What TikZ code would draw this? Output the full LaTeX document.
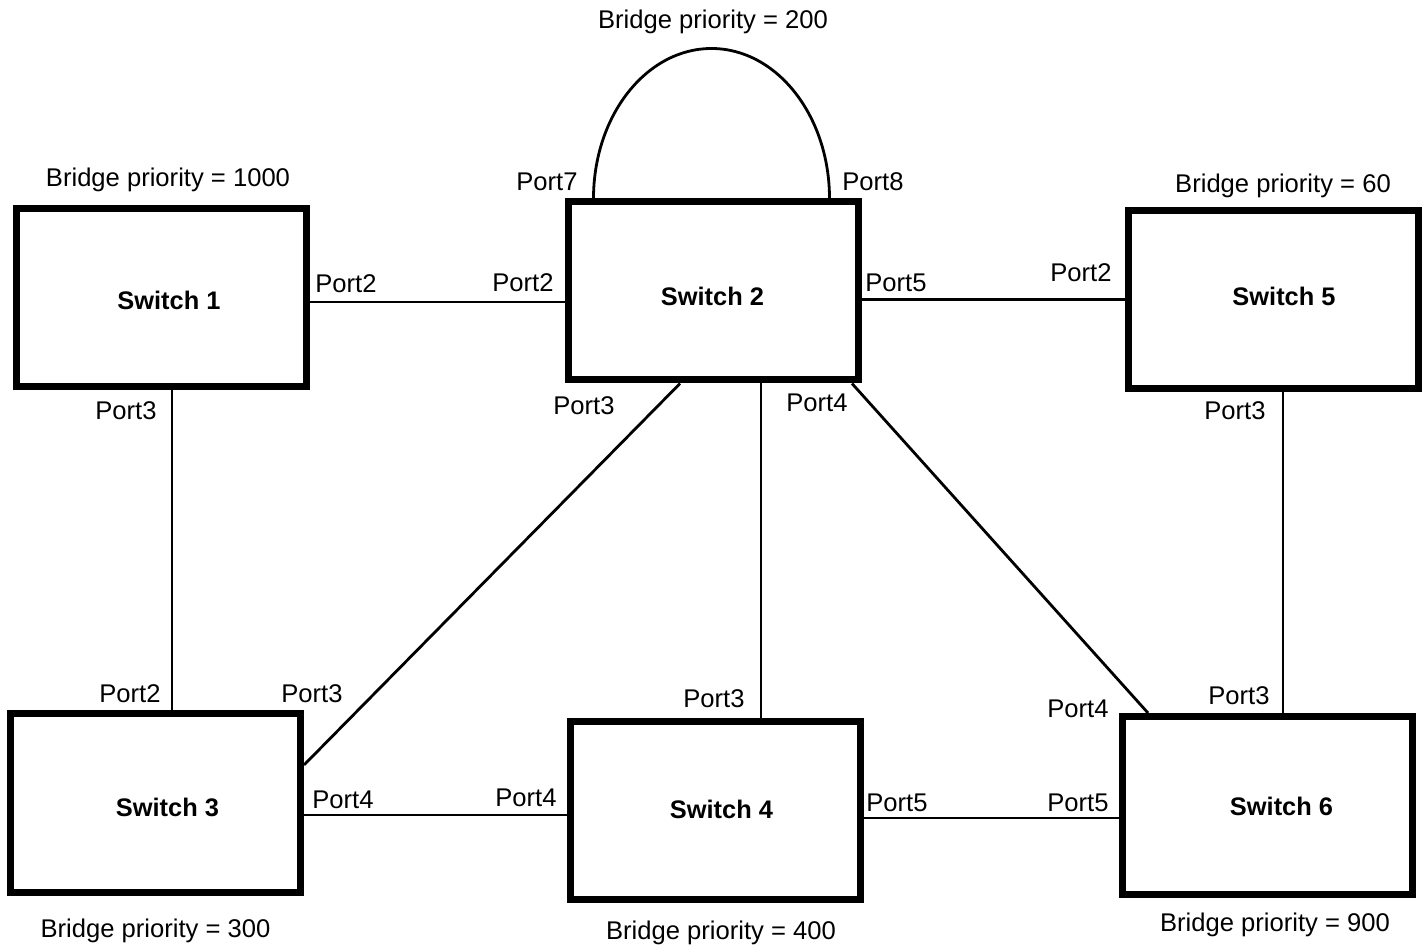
\documentclass[tikz,border=0pt]{standalone}
\usepackage{fontspec}
\setmainfont{Liberation Sans}
\usetikzlibrary{positioning}
\tikzset{
  switch/.style={draw,line width=3.5pt,minimum width=145pt,minimum height=89pt,inner sep=0pt},
  swname/.style={inner sep=0pt,font=\fontsize{12.7}{15}\selectfont\bfseries},
  link/.style={line width=1.4pt},
  port/.style={inner sep=0pt,font=\fontsize{12.8}{15}\selectfont},
  prio/.style={port}
}

\begin{document}
\begin{tikzpicture}[x=0.5pt,y=-0.5pt]
\useasboundingbox (0,0) rectangle (1426,946);
% switches
\node[switch,label={[swname,xshift=4pt,yshift=-1pt]center:Switch 1}] (s1) at (161,298) {};
\node[switch,label={[swname,xshift=-0.5pt,yshift=-2.5pt]center:Switch 2}] (s2) at (713.5,291) {};
\node[switch,label={[swname,xshift=5.5pt,yshift=1.5pt]center:Switch 5}] (s5) at (1273,299.5) {};
\node[switch,label={[swname,xshift=6pt,yshift=-2pt]center:Switch 3}] (s3) at (155.5,803) {};
\node[switch,label={[swname,xshift=3pt,yshift=0.5pt]center:Switch 4}] (s4) at (715.5,810.5) {};
\node[switch,label={[swname,xshift=7pt,yshift=-0.5pt]center:Switch 6}] (s6) at (1267.5,805.5) {};
% bridge priorities
\node[prio,above=6.5pt of s1,xshift=3.5pt] (b1) {Bridge priority = 1000};
\node[prio] (b2) at (713,22) {Bridge priority = 200};
\node[prio,above=4.5pt of s5,xshift=5pt] (b5) {Bridge priority = 60};
\node[prio,below=11.5pt of s3] (b3) {Bridge priority = 300};
\node[prio,below=9pt of s4,xshift=2.75pt] (b4) {Bridge priority = 400};
\node[prio,below=7.5pt of s6,xshift=3.75pt] (b6) {Bridge priority = 900};
% links
\draw[link] ([yshift=-2pt]s1.east) coordinate (p12) -- (p12 -| s2.west);
\draw[link] (s5.west) -- (s5.west -| s2.east);
\draw[link] ([xshift=5.5pt]s1.south) coordinate (p13) -- (p13 |- s3.north);
\draw[link] ([xshift=-16.75pt]s2.south) -- ([yshift=19pt]s3.east);
\draw[link] ([xshift=23.75pt]s2.south) coordinate (p24) -- (p24 |- s4.north);
\draw[link] ([xshift=-5pt]s2.south east) -- ([xshift=14.5pt]s6.north west);
\draw[link] ([xshift=5pt]s5.south) coordinate (p56) -- (p56 |- s6.north);
\draw[link] ([yshift=-6pt]s3.east) coordinate (p34) -- (p34 -| s4.west);
\draw[link] ([yshift=-3.75pt]s4.east) coordinate (p46) -- (p46 -| s6.west);
\draw[link] ([xshift=-60pt]s2.north) arc[start angle=180,end angle=0,x radius=59pt,y radius=75pt];
% ports
\node[port] (s2p7) at (547,182) {Port7};
\node[port] (s2p8) at (873,182) {Port8};
\node[port] (s1p2) at (346,284) {Port2};
\node[port] (s2p2) at (523,283) {Port2};
\node[port] (s2p5) at (896,283) {Port5};
\node[port] (s5p2) at (1081,273) {Port2};
\node[port] (s1p3) at (126,411) {Port3};
\node[port] (s2p3) at (584,406) {Port3};
\node[port] (s2p4) at (817,403) {Port4};
\node[port] (s5p3) at (1235,411) {Port3};
\node[port] (s3p2) at (130,694) {Port2};
\node[port] (s3p3) at (312,694) {Port3};
\node[port] (s4p3) at (714,699) {Port3};
\node[port] (s6p4) at (1078,709) {Port4};
\node[port] (s6p3) at (1239,696) {Port3};
\node[port] (s3p4) at (343,800) {Port4};
\node[port] (s4p4) at (526,798) {Port4};
\node[port] (s4p5) at (897,803) {Port5};
\node[port] (s6p5) at (1078,803) {Port5};
\end{tikzpicture}
\end{document}
